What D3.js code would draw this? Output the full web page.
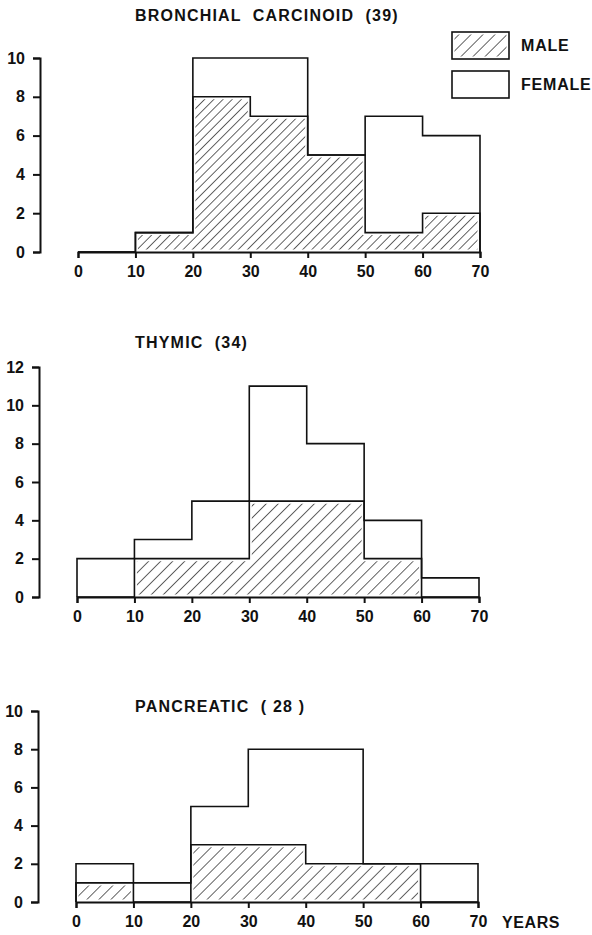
<!DOCTYPE html>
<html>
<head>
<meta charset="utf-8">
<script src="https://cdn.jsdelivr.net/npm/d3@7"></script>
<style>
  body { margin: 0; background: #fff; }
  text { font-family: "Liberation Sans", Arial, sans-serif; font-weight: bold; fill: #111; }
</style>
</head>
<body>
<div id="chart"></div>
<script>
// age groups (years), bin edges
const ageEdges = [0, 10, 20, 30, 40, 50, 60, 70];
const xTickValues = [0, 10, 20, 30, 40, 50, 60, 70];

// counts per decade, male / female
const bronchialMale = [0, 1, 8, 7, 5, 1, 2];
const bronchialFemale = [0, 0, 2, 3, 0, 6, 4];
const thymicMale = [0, 2, 2, 5, 5, 2, 0];
const thymicFemale = [2, 1, 3, 6, 3, 2, 1];
const pancreaticMale = [1, 0, 3, 3, 2, 2, 0];
const pancreaticFemale = [1, 1, 2, 5, 6, 0, 2];

const titles = ["BRONCHIAL  CARCINOID  (39)", "THYMIC  (34)", "PANCREATIC  ( 28 )"];
const yTickSets = [[0, 2, 4, 6, 8, 10], [0, 2, 4, 6, 8, 10, 12], [0, 2, 4, 6, 8, 10]];
const legendLabels = ["MALE", "FEMALE"];

const width = 592, height = 935;
const ink = "#111";

const svg = d3.select("#chart")
  .append("svg")
  .attr("width", width)
  .attr("height", height);

// hatch patterns ("/" lines)
const defs = svg.append("defs");
function addHatch(id, gap) {
  const p = defs.append("pattern")
    .attr("id", id)
    .attr("patternUnits", "userSpaceOnUse")
    .attr("width", gap)
    .attr("height", gap)
    .attr("patternTransform", "rotate(45)");
  p.append("line")
    .attr("x1", 0).attr("y1", 0)
    .attr("x2", 0).attr("y2", gap)
    .attr("stroke", ink)
    .attr("stroke-width", 1.3);
}
addHatch("hatchDense", 6.5);
addHatch("hatchWide", 8.5);

// layout of each panel
const panels = [
  { male: bronchialMale, female: bronchialFemale, xr: [78, 480], yr: [252, 58], axisX: 40, titleY: 20.5, hatch: "hatchDense" },
  { male: thymicMale, female: thymicFemale, xr: [77, 479], yr: [597, 367], axisX: 39, titleY: 348, hatch: "hatchWide" },
  { male: pancreaticMale, female: pancreaticFemale, xr: [76, 478], yr: [902, 711], axisX: 38, titleY: 712, hatch: "hatchWide" }
];

function stepPoints(vals) {
  const pts = [[ageEdges[0], 0]];
  vals.forEach((v, i) => {
    pts.push([ageEdges[i], v]);
    pts.push([ageEdges[i + 1], v]);
  });
  pts.push([ageEdges[ageEdges.length - 1], 0]);
  return pts;
}

panels.forEach((p, k) => {
  const yTicks = yTickSets[k];
  const x = d3.scaleLinear().domain([0, 70]).range(p.xr);
  const y = d3.scaleLinear().domain([0, d3.max(yTicks)]).range(p.yr);
  const line = d3.line().x(d => x(d[0])).y(d => y(d[1]));

  const total = p.male.map((m, i) => m + p.female[i]);
  const malePts = stepPoints(p.male);
  const totalPts = stepPoints(total);

  const g = svg.append("g");

  // hatched male area
  g.append("path")
    .attr("d", line(malePts) + "Z")
    .attr("fill", "url(#" + p.hatch + ")");

  // white margin so the hatching stops short of the outline
  g.append("path")
    .attr("d", line(malePts) + "Z")
    .attr("fill", "none")
    .attr("stroke", "#fff")
    .attr("stroke-width", 5);

  // outlines
  g.append("path")
    .attr("d", line(totalPts))
    .attr("fill", "none")
    .attr("stroke", ink)
    .attr("stroke-width", 1.6);
  g.append("path")
    .attr("d", line(malePts))
    .attr("fill", "none")
    .attr("stroke", ink)
    .attr("stroke-width", 1.6);

  // x axis
  const xAxis = g.append("g")
    .attr("transform", "translate(0," + p.yr[0] + ")")
    .call(d3.axisBottom(x).tickValues(xTickValues).tickSize(6).tickSizeOuter(6).tickPadding(8));
  // y axis
  const yAxis = g.append("g")
    .attr("transform", "translate(" + p.axisX + ",0)")
    .call(d3.axisLeft(y).tickValues(yTicks).tickSize(7).tickSizeOuter(7).tickPadding(8));

  [xAxis, yAxis].forEach(a => {
    a.attr("font-family", null).attr("font-size", null);
    a.selectAll("path, line").attr("stroke", ink).attr("stroke-width", 2);
    a.selectAll("text").attr("fill", ink).style("font-size", "16px");
  });

  // title
  g.append("text")
    .attr("xml:space", "preserve")
    .style("white-space", "pre")
    .attr("x", 135)
    .attr("y", p.titleY)
    .style("font-size", "16px")
    .style("letter-spacing", "1.2px")
    .text(titles[k]);

  if (k === 2) {
    g.append("text")
      .attr("x", 502)
      .attr("y", p.yr[0] + 20)
      .attr("dy", "0.35em")
      .style("font-size", "16px")
      .style("letter-spacing", "0.6px")
      .text("YEARS");
  }
});

// legend
const legend = svg.append("g");
legendLabels.forEach((lab, i) => {
  const top = 32 + i * 39;
  if (i === 0) {
    legend.append("rect")
      .attr("x", 452).attr("y", top).attr("width", 57).attr("height", 27)
      .attr("fill", "url(#hatchWide)");
    legend.append("rect")
      .attr("x", 452).attr("y", top).attr("width", 57).attr("height", 27)
      .attr("fill", "none").attr("stroke", "#fff").attr("stroke-width", 5);
  }
  legend.append("rect")
    .attr("x", 452).attr("y", top).attr("width", 57).attr("height", 27)
    .attr("fill", "none").attr("stroke", ink).attr("stroke-width", 1.6);
  legend.append("text")
    .attr("x", 521)
    .attr("y", top + 13)
    .attr("dy", "0.35em")
    .style("font-size", "16px")
    .style("letter-spacing", "0.8px")
    .text(lab);
});
</script>
</body>
</html>
